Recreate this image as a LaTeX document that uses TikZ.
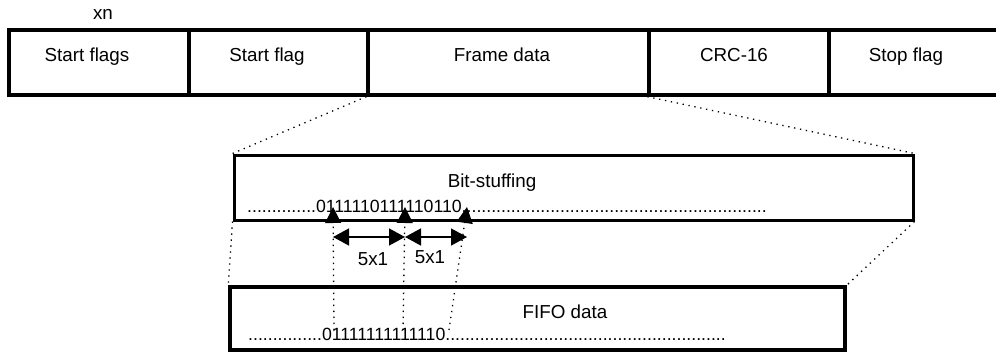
\documentclass[tikz,border=0pt]{standalone}
\usepackage{fontspec}
\setmainfont{Liberation Sans}
\usetikzlibrary{arrows.meta}
\tikzset{
  cell/.style={draw,line width=3.3pt,minimum height=65pt,inner sep=0pt},
  lbl/.style={anchor=base,font=\fontsize{18.8}{22}\selectfont,inner sep=0pt},
  bitrow/.style={anchor=base west,font=\fontsize{17.7}{20}\selectfont,inner sep=0pt},
  zoomline/.style={line width=1.3pt,dash pattern=on 1.3pt off 4.7pt},
}
\newcommand\dotrun[1]{\foreach\k in {1,...,#1}{.}}
\begin{document}
\begin{tikzpicture}[x=1pt,y=-1pt]
\useasboundingbox (0,0) rectangle (996,353);
% frame fields
\node[cell,minimum width=180pt] (sfs) at (99,62.5) {};
\node[cell,minimum width=179pt] (sf) at (278.5,62.5) {};
\node[cell,minimum width=281pt] (fd) at (508.5,62.5) {};
\node[cell,minimum width=180pt] (crc) at (739,62.5) {};
\node[cell,minimum width=181pt] (stop) at (919.5,62.5) {};
\node[lbl] (xn) at (103,20) {xn};
\node[lbl] (tsfs) at (87,62) {Start flags};
\node[lbl] (tsf) at (267,62) {Start flag};
\node[lbl] (tfd) at (502,62) {Frame data};
\node[lbl] (tcrc) at (734,62) {CRC-16};
\node[lbl] (tstop) at (906,62) {Stop flag};
% stuffed and fifo rows
\node[cell,line width=3pt,minimum width=679pt] (bs) at (573.5,187.5) {};
\node[cell,line width=3.5pt,minimum width=615pt,minimum height=63pt] (fifo) at (537.5,318.5) {};
\node[lbl] (tbs) at (492,187) {Bit-stuffing};
\node[lbl] (tfifo) at (565,318) {FIFO data};
\node[bitrow] (bsbits) at (247,212) {\dotrun{14}0111110111110110\dotrun{62}};
\node[bitrow] (fifobits) at (248,340) {\dotrun{15}01111111111110\dotrun{57}};
\draw[zoomline] (fd.south west) -- (bs.north west);
\draw[zoomline] (crc.south west) -- (bs.north east);
\draw[zoomline] (bs.south west) -- (fifo.north west);
\draw[zoomline] (bs.south east) -- (fifo.north east);
% stuffed zeros
\coordinate (f1) at (334,330);
\coordinate (f2) at (403,330);
\coordinate (f3) at (449,330);
\coordinate (t1) at (333,207);
\coordinate (t2) at (405,207);
\coordinate (t3) at (467,207);
\foreach \i in {1,2,3}
  \draw[zoomline,-{Triangle[length=16pt,width=16pt]}] (f\i) -- (t\i);
\coordinate (h1) at (333,237);
\coordinate (h2) at (405,237);
\coordinate (h3) at (467,237);
\draw[line width=1.5pt,{Triangle[length=16pt,width=17pt]}-{Triangle[length=16pt,width=17pt]}] (h1) -- (h2);
\draw[line width=1.5pt,{Triangle[length=16pt,width=17pt]}-{Triangle[length=16pt,width=17pt]}] (h2) -- (h3);
\node[lbl] (n1) at (373,265) {5x1};
\node[lbl] (n2) at (430,263) {5x1};
\end{tikzpicture}
\end{document}
